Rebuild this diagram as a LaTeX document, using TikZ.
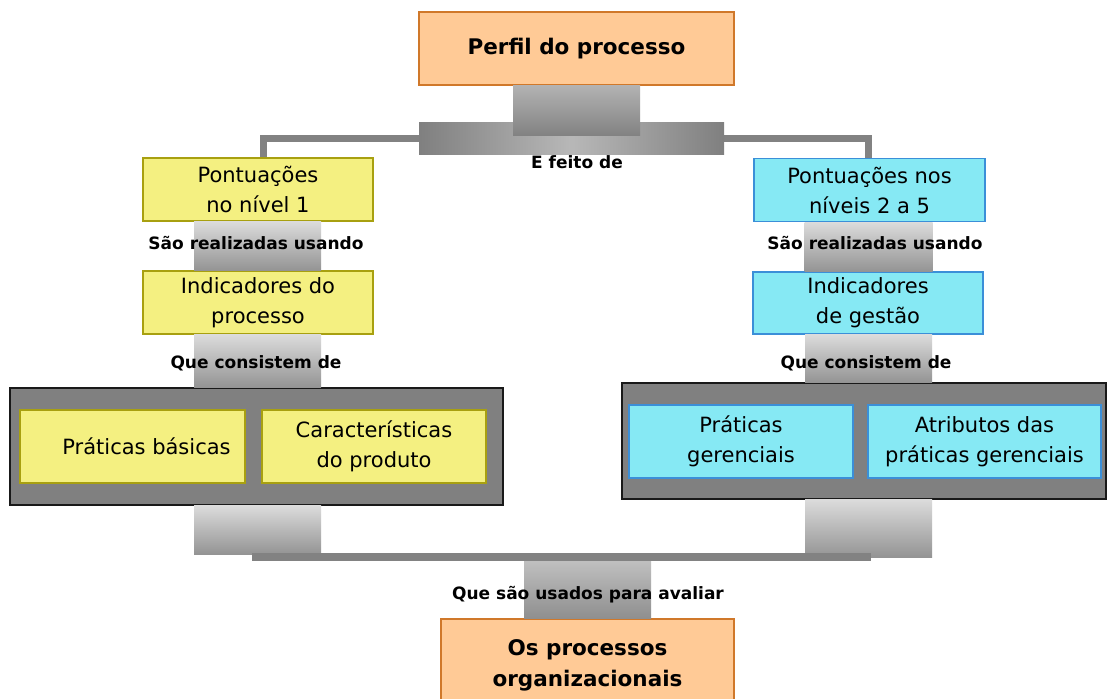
\documentclass[tikz,border=0pt]{standalone}
\usepackage{fontspec}
\setmainfont{DejaVu Sans}
\pgfdeclarelayer{background}
\pgfsetlayers{background,main}
\definecolor{orfill}{HTML}{FFCA96}
\definecolor{ordraw}{HTML}{D0782A}
\definecolor{yefill}{HTML}{F4F081}
\definecolor{yedraw}{HTML}{A8A010}
\definecolor{cyfill}{HTML}{86E9F4}
\definecolor{cydraw}{HTML}{3B8FD8}
\definecolor{darkfill}{HTML}{808080}
\definecolor{linegray}{HTML}{828282}
\tikzset{
  boxbase/.style={rectangle, line width=1.5pt, align=center, inner sep=0pt,
    font=\fontsize{21}{30}\selectfont},
  orbox/.style={boxbase, fill=orfill, draw=ordraw, font=\bfseries\fontsize{21.5}{31}\selectfont},
  yebox/.style={boxbase, fill=yefill, draw=yedraw},
  cybox/.style={boxbase, fill=cyfill, draw=cydraw},
  bigbox/.style={rectangle, fill=darkfill, draw=black!90, line width=1.5pt, inner sep=0pt},
  lbl/.style={font=\bfseries\fontsize{17}{20}\selectfont, inner sep=0pt},
  conn/.style={draw=linegray, line width=7pt},
  vblock/.style={top color=black!14, bottom color=black!42},
  tblock/.style={top color=black!30, bottom color=black!49},
  bblock/.style={top color=black!25, bottom color=black!44},
  hbar/.style={rectangle, inner sep=0pt, left color=black!50, right color=black!50, middle color=black!28},
}
\begin{document}
\begin{tikzpicture}[x=1pt,y=-1pt]
\useasboundingbox (0,0) rectangle (1107,698);
\clip (0,0) rectangle (1107,698);

\node[orbox, minimum width=315pt, minimum height=73pt] (top) at (576.5,48.5) {Perfil do processo};
\coordinate (tj) at (571.5,138);
\node[yebox, minimum width=230pt, minimum height=63pt] (lp1) at (258,189.5) {Pontuações\\no nível 1};
\node[cybox, minimum width=231pt, minimum height=63pt] (rp1) at (869.5,190) {Pontuações nos\\níveis 2 a 5};

% top connector, behind the boxes
\begin{pgfonlayer}{background}
\fill[white] (0,0) rectangle (1107,698);
\draw[conn] ([xshift=5pt]lp1.north) |- (tj) -| ([xshift=-1.5pt]rp1.north);
\end{pgfonlayer}

% top bar and block
\node[hbar, minimum width=305pt, minimum height=32pt] (tbar) at (tj) {};
\shade[tblock] ([xshift=-63.5pt]top.south) rectangle ([xshift=63.5pt]top.south |- 0,135);

% left column
\node[yebox, minimum width=230pt, minimum height=63pt] (lp2) at (258,302.5) {Indicadores do\\processo};
\node[bigbox, minimum width=493pt, minimum height=117pt] (lbig) at (256.5,446.5) {};
\node[yebox, minimum width=225pt, minimum height=73pt] (lin1) at (132.5,446.5) {\hspace*{28pt}Práticas básicas};
\node[yebox, minimum width=224pt, minimum height=73pt] (lin2) at (374,446.5) {Características\\do produto};

% right column
\node[cybox, minimum width=230pt, minimum height=62pt] (rp2) at (868,303) {Indicadores\\de gestão};
\node[bigbox, minimum width=484pt, minimum height=116pt] (rbig) at (864,441) {};
\node[cybox, minimum width=224pt, minimum height=73pt] (rin1) at (741,441.5) {Práticas\\gerenciais};
\node[cybox, minimum width=233pt, minimum height=73pt] (rin2) at (984.5,441.5) {Atributos das\\práticas gerenciais};

% bottom box
\node[orbox, minimum width=293pt, minimum height=92pt] (bot) at (587.5,665) {Os processos\\organizacionais};

% vertical gradient connectors
\shade[vblock] ([xshift=-64pt]lp1.south) rectangle ([xshift=63pt]lp2.north);
\shade[vblock] ([xshift=-64pt]lp2.south) rectangle ([xshift=63pt]lp2.south |- lbig.north);
\shade[vblock] ([xshift=-63.5pt]rp1.south -| rp2.south) rectangle ([xshift=64.5pt]rp2.north);
\shade[vblock] ([xshift=-63pt]rp2.south) rectangle ([xshift=64pt]rp2.south |- rbig.north);

% bottom joins
\coordinate (lj) at (257.5,554);
\coordinate (rj) at (868.5,557);
\shade[vblock] ([xshift=-63.5pt]lbig.south -| lj) rectangle ([xshift=63.5pt]lj);
\shade[vblock] ([xshift=-63.5pt]rbig.south -| rj) rectangle ([xshift=63.5pt]rj);
\node[rectangle, fill=linegray, inner sep=0pt, minimum width=619pt, minimum height=8pt] (bbar) at (561.5,557) {};
\shade[bblock] ([xshift=-63.5pt]bot.north) rectangle ([xshift=63.5pt]bot.north |- bbar.south);

% labels
\node[lbl] (l0) at (577,162) {E feito de};
\node[lbl] (l1) at (256,243) {São realizadas usando};
\node[lbl] (l2) at (875,243) {São realizadas usando};
\node[lbl] (l3) at (256,363) {Que consistem de};
\node[lbl] (l4) at (866,363) {Que consistem de};
\node[lbl] (l5) at (588,595) {Que são usados para avaliar};
\end{tikzpicture}
\end{document}
